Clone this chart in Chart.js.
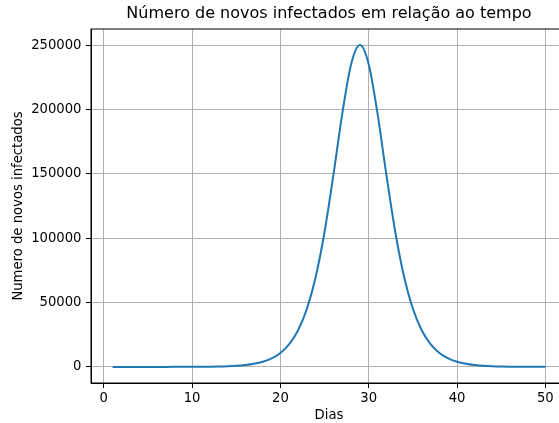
<!DOCTYPE html>
<html>
<head>
<meta charset="utf-8">
<script src="https://cdn.jsdelivr.net/npm/chart.js@4/dist/chart.umd.min.js"></script>
<style>
  html, body { margin: 0; padding: 0; overflow: hidden; background: #fff; }
  #wrap { width: 580px; height: 423px; }
</style>
</head>
<body>
<div id="wrap"><canvas id="c" width="580" height="423"></canvas></div>
<script>
const days = [1,2,3,4,5,6,7,8,9,10,11,12,13,14,15,16,17,18,19,20,21,22,23,24,25,26,27,28,29,30,31,32,33,34,35,36,37,38,39,40,41,42,43,44,45,46,47,48,49,50];
const newInfected = [1,1,2,4,6,10,17,28,45,75,123,203,335,552,910,1500,2470,4050,6650,10870,17660,28450,45180,70100,105000,149150,196600,235000,250000,235000,196600,149150,105000,70100,45180,28450,17660,10870,6650,4050,2470,1500,910,552,335,203,123,75,45,28];
const xTicks = [0,10,20,30,40,50];
const yTicks = [0,50000,100000,150000,200000,250000];

const titleText = 'Número de novos infectados em relação ao tempo';
const xLabel = 'Dias';
const yLabel = 'Numero de novos infectados';

const FONT = 'DejaVu Sans';

const frame = {
  id: 'frame',
  afterDatasetsDraw(chart) {
    const a = chart.chartArea, ctx = chart.ctx;
    ctx.save();
    ctx.strokeStyle = '#000';
    ctx.lineWidth = 1;
    ctx.strokeRect(a.left, a.top, a.right - a.left, a.bottom - a.top);
    ctx.restore();
  }
};

new Chart(document.getElementById('c'), {
  type: 'line',
  data: {
    datasets: [{
      data: days.map((d, i) => ({ x: d, y: newInfected[i] })),
      borderColor: '#1f77b4',
      borderWidth: 2,
      pointRadius: 0,
      fill: false,
      cubicInterpolationMode: 'monotone'
    }]
  },
  plugins: [frame],
  options: {
    responsive: false,
    animation: false,
    devicePixelRatio: 1,
    layout: { padding: { left: 0, right: 13, top: 0, bottom: 0 } },
    plugins: {
      legend: { display: false },
      tooltip: { enabled: false },
      title: {
        display: true,
        fullSize: false,
        text: titleText,
        color: '#000',
        font: { family: FONT, size: 16, weight: 'normal' },
        padding: { top: 4.4, bottom: 5.4 }
      }
    },
    scales: {
      x: {
        type: 'linear',
        min: -1.45,
        max: 52.45,
        afterBuildTicks: s => { s.ticks = xTicks.map(v => ({ value: v })); },
        afterFit: s => { s.height = 40; },
        grid: { color: '#b0b0b0', lineWidth: 1, tickColor: '#000', tickLength: 5 },
        border: { display: true, color: '#000', width: 1 },
        ticks: { color: '#000', font: { family: FONT, size: 13.2 }, padding: 3, maxRotation: 0, callback: v => String(v) },
        title: { display: true, text: xLabel, color: '#000', font: { family: FONT, size: 13.2 }, padding: { top: 0, bottom: 0 } }
      },
      y: {
        type: 'linear',
        min: -12500,
        max: 262500,
        afterBuildTicks: s => { s.ticks = yTicks.map(v => ({ value: v })); },
        afterFit: s => { s.width = 91; },
        grid: { color: '#b0b0b0', lineWidth: 1, tickColor: '#000', tickLength: 5 },
        border: { display: true, color: '#000', width: 1 },
        ticks: { color: '#000', font: { family: FONT, size: 13.2 }, padding: 4.5, callback: v => String(v) },
        title: { display: true, text: yLabel, color: '#000', font: { family: FONT, size: 13.2 }, padding: { top: 11, bottom: 4 } }
      }
    }
  }
});
</script>
</body>
</html>
